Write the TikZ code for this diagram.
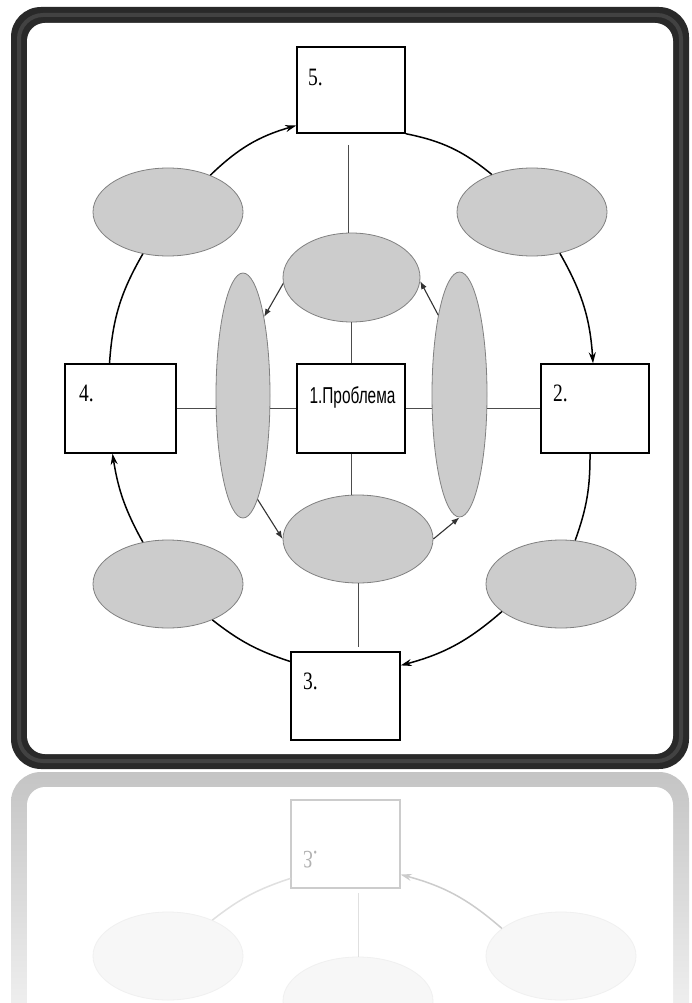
\documentclass[tikz,border=0pt]{standalone}
\usepackage{fontspec}
\setmainfont{Liberation Serif}
\newfontfamily\sansf{Liberation Sans}
\usetikzlibrary{shapes.geometric, arrows.meta}
\begin{document}
\begin{tikzpicture}[x=1pt, y=-1pt,
  box/.style={draw=black, line width=1.4pt, fill=white, inner sep=0pt},
  oval/.style={ellipse, draw=black!50, line width=0.8pt, fill=black!20, inner sep=0pt},
  ring/.style={draw=black, line width=1.5pt},
  ringarrow/.style={ring, -{Stealth[length=11pt,width=7pt]}},
  inarrow/.style={draw=black!80, line width=1.1pt, -{Latex[length=8pt,width=6pt]}},
  link/.style={draw=black!70, line width=0.8pt},
  numlabel/.style={anchor=base west, inner sep=0pt, font=\fontsize{25}{25}\selectfont},
]
\useasboundingbox (0,0) rectangle (691,1003);
% frame
\fill[black!84, rounded corners=30pt] (11,7) rectangle (689,769);
\draw[black!74, line width=4pt, rounded corners=24pt] (19,15) rectangle (681,761);
\fill[white, rounded corners=18pt] (27,23) rectangle (673,754);

% ellipses
\node[oval, minimum width=150pt, minimum height=88pt] (tl) at (168,212) {};
\node[oval, minimum width=150pt, minimum height=88pt] (tr) at (532,212) {};
\node[oval, minimum width=150pt, minimum height=88pt] (bl) at (168,584) {};
\node[oval, minimum width=150pt, minimum height=88pt] (br) at (561,584) {};
\node[oval, minimum width=137pt, minimum height=89pt] (it) at (351.5,277.5) {};
\node[oval, minimum width=150pt, minimum height=88pt] (ib) at (358,539) {};
\node[oval, minimum width=54pt, minimum height=245pt] (il) at (243,395.5) {};
\node[oval, minimum width=55pt, minimum height=245pt] (ir) at (459.5,394.5) {};

% boxes
\node[box, minimum width=108pt, minimum height=86pt] (b5) at (351,90) {};
\node[box, minimum width=111pt, minimum height=89pt] (b4) at (120.5,408.5) {};
\node[box, minimum width=108pt, minimum height=89pt] (b1) at (351,408.5) {};
\node[box, minimum width=108pt, minimum height=89pt] (b2) at (595,408.5) {};
\node[box, minimum width=109pt, minimum height=88pt] (b3) at (345.5,696) {};

% labels
\node[numlabel] (t5) at (308,86) {\scalebox{0.78}[1]{5.}};
\node[numlabel] (t4) at (79,401) {\scalebox{0.78}[1]{4.}};
\node[numlabel] (t2) at (553,401) {\scalebox{0.78}[1]{2.}};
\node[numlabel] (t3) at (303,689) {\scalebox{0.78}[1]{3.}};
\node[anchor=base, inner sep=0pt, font=\sansf\fontsize{23}{23}\selectfont] (t1) at (352.5,403) {\scalebox{0.67}[1]{1.Проблема}};

% thin links
\coordinate (v5) at (348,145);
\coordinate (v3) at (357,647);
\draw[link] (v5) -- (v5 |- it.north);
\draw[link] (it.south) -- (it.south |- b1.north);
\draw[link] (b1.south) -- (b1.south |- ib.north);
\draw[link] (ib.south) -- (ib.south |- v3);
\draw[link] (b4.east) -- (b4.east -| il.west);
\draw[link] (il.east |- b1.west) -- (b1.west);
\draw[link] (b1.east) -- (b1.east -| ir.west);
\draw[link] (ir.east |- b2.west) -- (b2.west);

% outer ring
\draw[ringarrow] (tl.41) to[bend left=14] (b5.213);
\draw[ring] (b5.south east) to[bend left=14] (tr.137);
\draw[ringarrow] (tr.-56) to[bend left=13] ([xshift=-2pt]b2.north);
\draw[ring] ([xshift=-5pt]b2.south) to[bend left=10] (br.72);
\draw[ringarrow] (br.205) to[bend left=13] (b3.29);
\draw[ring] (b3.148) to[bend left=10] (bl.-39);
\draw[ringarrow] (bl.121) to[bend left=10] ([xshift=-8pt]b4.south);
\draw[ring] ([xshift=-11pt]b4.north) to[bend left=13] (tl.239);

% inner arrows
\draw[inarrow] (it.185) -- (il.75);
\draw[inarrow] (il.-82) -- (ib.west);
\draw[inarrow] (ib.east) -- (ir.south);
\draw[inarrow] (ir.105) -- (it.-3);

% reflection
\begin{scope}
\clip (0,770) rectangle (691,1003);
\shade[top color=black!23, bottom color=black!4, rounded corners=30pt] (11,772) rectangle (689,1040);
\fill[white, rounded corners=18pt] (27,787) rectangle (673,1040);
\begin{scope}[shift={(0,1540)}, yscale=-1, transform shape]
\node[oval, draw=black!6, fill=black!3, minimum width=150pt, minimum height=88pt] (rbl) at (168,584) {};
\node[oval, draw=black!6, fill=black!3, minimum width=150pt, minimum height=88pt] (rbr) at (561,584) {};
\node[oval, draw=black!6, fill=black!3, minimum width=150pt, minimum height=88pt] (rib) at (358,539) {};
\node[box, draw=black!20, line width=1.2pt, minimum width=109pt, minimum height=88pt] (rb3) at (345.5,696) {};
\node[numlabel, text=black!30] (rt3) at (303,689) {\scalebox{0.78}[1]{3.}};
\coordinate (rv3) at (357,647);
\draw[link, draw=black!12] (rib.south) -- (rib.south |- rv3);
\draw[ringarrow, draw=black!20] (rbr.205) to[bend left=13] (rb3.29);
\draw[ring, draw=black!12] (rb3.148) to[bend left=10] (rbl.-39);
\end{scope}
\end{scope}
\end{tikzpicture}
\end{document}
